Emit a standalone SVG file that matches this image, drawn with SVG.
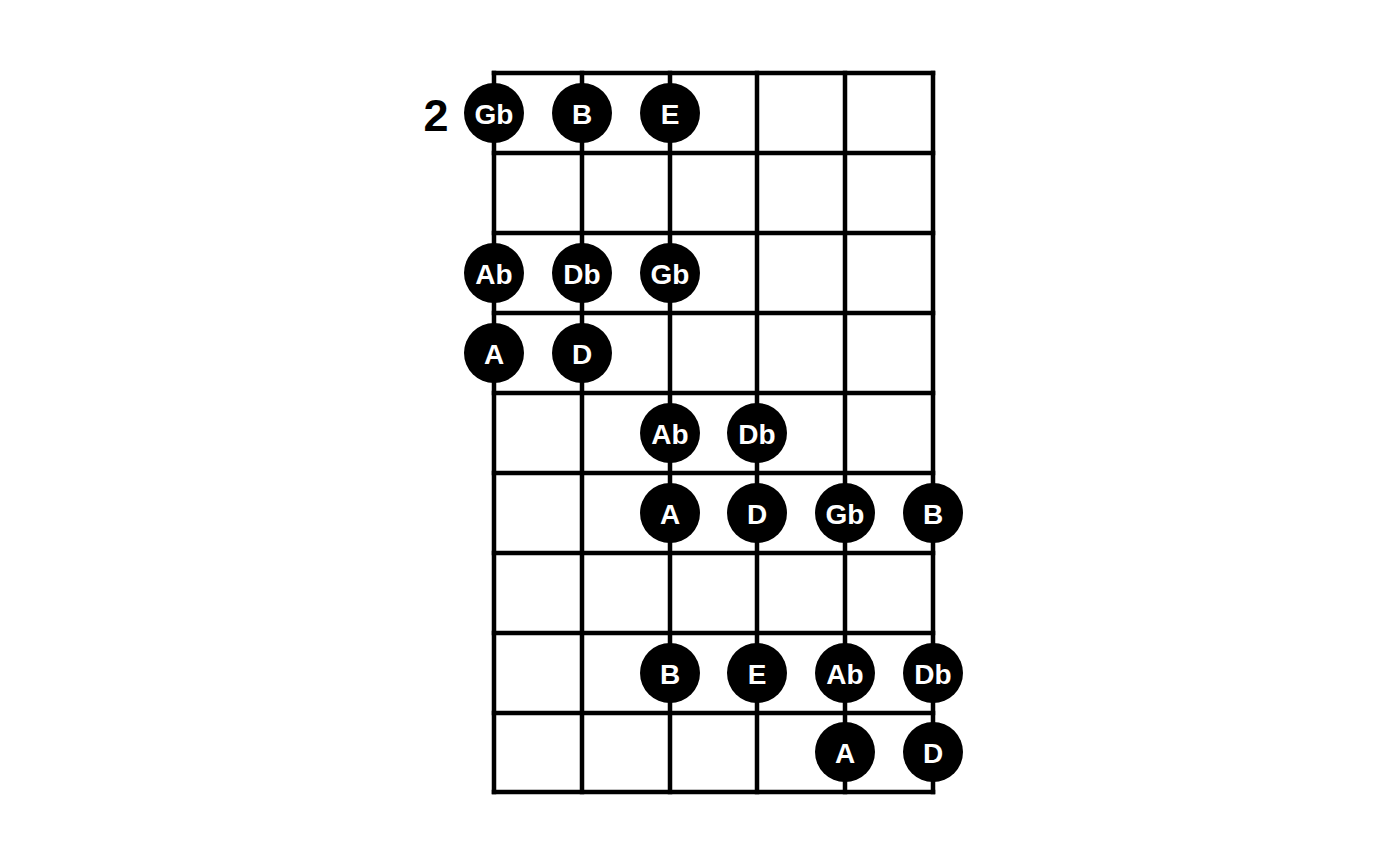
<svg xmlns="http://www.w3.org/2000/svg" width="1400" height="866" viewBox="0 0 1400 866">
<style>
.g line{stroke:#000;stroke-width:4.5;stroke-linecap:square}
.n circle{fill:#000}
.n text{fill:#fff;font-family:"Liberation Sans",Arial,sans-serif;font-weight:bold;font-size:28px;text-anchor:middle;dominant-baseline:central}
.lbl{fill:#000;font-family:"Liberation Sans",Arial,sans-serif;font-weight:bold;font-size:45px;text-anchor:middle;dominant-baseline:central}
</style>
<rect width="1400" height="866" fill="#fff"/>
<g id="grid" class="g">
<line x1="494" y1="73" x2="494" y2="792"/>
<line x1="582" y1="73" x2="582" y2="792"/>
<line x1="670" y1="73" x2="670" y2="792"/>
<line x1="757" y1="73" x2="757" y2="792"/>
<line x1="845" y1="73" x2="845" y2="792"/>
<line x1="933" y1="73" x2="933" y2="792"/>
<line x1="494" y1="73" x2="933" y2="73"/>
<line x1="494" y1="153" x2="933" y2="153"/>
<line x1="494" y1="233" x2="933" y2="233"/>
<line x1="494" y1="313" x2="933" y2="313"/>
<line x1="494" y1="393" x2="933" y2="393"/>
<line x1="494" y1="473" x2="933" y2="473"/>
<line x1="494" y1="553" x2="933" y2="553"/>
<line x1="494" y1="633" x2="933" y2="633"/>
<line x1="494" y1="713" x2="933" y2="713"/>
<line x1="494" y1="792" x2="933" y2="792"/>
</g>
<text id="fret" class="lbl" x="436" y="115">2</text>
<g id="notes" class="n">
<g id="n1"><circle cx="494" cy="113" r="30"/><text x="494" y="114">Gb</text></g>
<g id="n2"><circle cx="582" cy="113" r="30"/><text x="582" y="114">B</text></g>
<g id="n3"><circle cx="670" cy="113" r="30"/><text x="670" y="114">E</text></g>
<g id="n4"><circle cx="494" cy="273" r="30"/><text x="494" y="274">Ab</text></g>
<g id="n5"><circle cx="582" cy="273" r="30"/><text x="582" y="274">Db</text></g>
<g id="n6"><circle cx="670" cy="273" r="30"/><text x="670" y="274">Gb</text></g>
<g id="n7"><circle cx="494" cy="353" r="30"/><text x="494" y="354">A</text></g>
<g id="n8"><circle cx="582" cy="353" r="30"/><text x="582" y="354">D</text></g>
<g id="n9"><circle cx="670" cy="433" r="30"/><text x="670" y="434">Ab</text></g>
<g id="n10"><circle cx="757" cy="433" r="30"/><text x="757" y="434">Db</text></g>
<g id="n11"><circle cx="670" cy="513" r="30"/><text x="670" y="514">A</text></g>
<g id="n12"><circle cx="757" cy="513" r="30"/><text x="757" y="514">D</text></g>
<g id="n13"><circle cx="845" cy="513" r="30"/><text x="845" y="514">Gb</text></g>
<g id="n14"><circle cx="933" cy="513" r="30"/><text x="933" y="514">B</text></g>
<g id="n15"><circle cx="670" cy="673" r="30"/><text x="670" y="674">B</text></g>
<g id="n16"><circle cx="757" cy="673" r="30"/><text x="757" y="674">E</text></g>
<g id="n17"><circle cx="845" cy="673" r="30"/><text x="845" y="674">Ab</text></g>
<g id="n18"><circle cx="933" cy="673" r="30"/><text x="933" y="674">Db</text></g>
<g id="n19"><circle cx="845" cy="752" r="30"/><text x="845" y="753">A</text></g>
<g id="n20"><circle cx="933" cy="752" r="30"/><text x="933" y="753">D</text></g>
</g>
</svg>
